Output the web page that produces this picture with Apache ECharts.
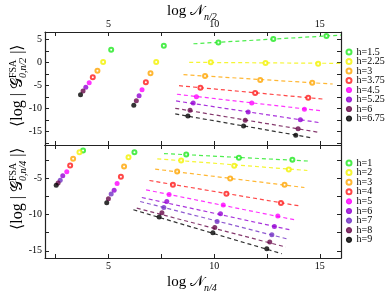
<!DOCTYPE html>
<html><head><meta charset="utf-8">
<script src="https://cdn.jsdelivr.net/npm/echarts@6/dist/echarts.min.js"></script>
<style>html,body{margin:0;padding:0;background:#fff}#c{width:389px;height:292px}</style>
</head><body><div id="c"></div>
<script>
// ---------- DATA ----------
// Top panel: <log |G_{0,n/2}|> vs log N_{n/2}
const topNames = ['h=1.5','h=2.25','h=3','h=3.75','h=4.5','h=5.25','h=6','h=6.75'];
const topH1_5  = [[5.13,2.75],[7.62,3.6],[10.20,4.35],[12.80,5.06],[15.31,5.71]];
const topH2_25 = [[4.75,0.09],[7.26,0.09],[9.84,0.02],[12.43,-0.13],[14.92,-0.28]];
const topH3    = [[4.48,-1.8],[6.99,-2.36],[9.57,-2.94],[12.18,-3.81],[14.64,-4.39]];
const topH3_75 = [[4.26,-3.2],[6.77,-4.3],[9.35,-5.48],[11.94,-6.62],[14.45,-7.64]];
const topH4_5  = [[4.09,-4.4],[6.59,-5.9],[9.16,-7.42],[11.78,-8.79],[14.27,-10.15]];
const topH5_25 = [[3.93,-5.4],[6.45,-7.2],[9.01,-8.79],[11.61,-10.74],[14.08,-12.40]];
const topH6    = [[3.80,-6.19],[6.32,-8.3],[8.86,-10.37],[11.47,-12.53],[13.97,-14.35]];
const topH6_75 = [[3.68,-6.99],[6.20,-9.29],[8.76,-11.6],[11.39,-13.77],[13.86,-15.78]];
// fitted dashed lines (end points)
const topFit1_5  = [[9.02,4.05],[16,5.93]];
const topFit2_25 = [[8.82,0.02],[16,-0.2]];
const topFit3    = [[8.55,-2.66],[15.61,-4.68]];
const topFit3_75 = [[8.34,-5.04],[15.26,-7.99]];
const topFit4_5  = [[8.24,-6.9],[15.14,-10.52]];
const topFit5_25 = [[8.2,-8.35],[15.05,-13.1]];
const topFit6    = [[8.16,-9.94],[14.93,-15.13]];
const topFit6_75 = [[8.16,-11.17],[14.68,-16.4]];

// Bottom panel: <log |G_{0,n/4}|> vs log N_{n/4}
const botNames = ['h=1','h=2','h=3','h=4','h=5','h=6','h=7','h=8','h=9'];
const botH1 = [[3.80,-1.17],[6.23,-1.39],[8.68,-1.72],[11.17,-2.17],[13.70,-2.45]];
const botH2 = [[3.63,-1.39],[5.95,-2.08],[8.44,-2.54],[10.95,-3.28],[13.53,-3.79]];
const botH3 = [[3.33,-2.31],[5.74,-3.37],[8.25,-4.06],[10.76,-5.03],[13.33,-5.9]];
const botH4 = [[3.19,-3.23],[5.59,-4.79],[8.05,-5.9],[10.58,-7.14],[13.16,-8.42]];
const botH5 = [[3.03,-4.1],[5.41,-5.72],[7.87,-7.23],[10.43,-8.7],[13.01,-10.21]];
const botH6 = [[2.84,-4.66],[5.27,-6.63],[7.76,-8.2],[10.30,-9.9],[12.85,-11.65]];
const botH7 = [[2.72,-5.25],[5.13,-7.18],[7.62,-9.03],[10.14,-10.96],[12.73,-12.79]];
const botH8 = [[2.62,-5.66],[5.0,-7.83],[7.53,-9.76],[10.03,-11.79],[12.63,-13.8]];
const botH9 = [[2.53,-5.94],[4.92,-8.38],[7.40,-10.35],[9.94,-12.52],[12.49,-14.72]];
const botFit1 = [[7.63,-1.58],[14.49,-2.62]];
const botFit2 = [[7.31,-2.31],[14.41,-3.92]];
const botFit3 = [[7.21,-3.73],[14.27,-6.27]];
const botFit4 = [[6.94,-5.3],[14.0,-8.79]];
const botFit5 = [[6.78,-6.59],[13.88,-10.77]];
const botFit6 = [[6.58,-7.65],[13.64,-12.14]];
const botFit7 = [[6.5,-8.2],[13.49,-13.39]];
const botFit8 = [[6.34,-9.11],[13.39,-14.49]];
const botFit9 = [[6.18,-9.34],[13.2,-15.41]];

// tick values
const xTicks = [2.5,5,7.5,10,12.5,15];
const xLabels = [5,10,15];
const topYTicks = [-17.5,-15,-12.5,-10,-7.5,-5,-2.5,0,2.5,5];
const topYLabels = [-15,-10,-5,0,5];
const botYTicks = [-15,-12.5,-10,-7.5,-5,-2.5];
const botYLabels = [-15,-10,-5];

// ---------- STYLE ----------
const C = {green:'#1fe81f', yellow:'#f2f200', orange:'#ffa500', red:'#ff1a1a', magenta:'#ff00ff',
           violet:'#9400d3', indigo:'#7230c4', maroon:'#670748', black:'#000000'};
const topColors = [C.green,C.yellow,C.orange,C.red,C.magenta,C.violet,C.maroon,C.black];
const topOpen = [true,true,true,true,false,false,false,false];
const botColors = [C.green,C.yellow,C.orange,C.red,C.magenta,C.violet,C.indigo,C.maroon,C.black];
const botOpen = [true,true,true,true,false,false,false,false,false];
const topPts = [topH1_5,topH2_25,topH3,topH3_75,topH4_5,topH5_25,topH6,topH6_75];
const topFits = [topFit1_5,topFit2_25,topFit3,topFit3_75,topFit4_5,topFit5_25,topFit6,topFit6_75];
const botPts = [botH1,botH2,botH3,botH4,botH5,botH6,botH7,botH8,botH9];
const botFits = [botFit1,botFit2,botFit3,botFit4,botFit5,botFit6,botFit7,botFit8,botFit9];

const FF = "'Liberation Serif','DejaVu Serif',serif";
const AX = '#222';

const series = [];
function add(prefix, names, pts, fits, colors, open, xi, yi) {
  names.forEach((n, i) => {
    series.push({type:'line', name: prefix+'fit'+i, data: fits[i], xAxisIndex: xi, yAxisIndex: yi,
      symbol:'none', silent:true, z:2, animation:false,
      lineStyle:{color: colors[i], width:1.2, type:[4,3], opacity:0.8}});
    series.push({type:'scatter', name: prefix+n, data: pts[i], xAxisIndex: xi, yAxisIndex: yi,
      symbol: open[i] ? 'emptyCircle' : 'circle', symbolSize: open[i] ? 4 : 5, z:3, animation:false,
      itemStyle:{color: colors[i], borderColor: colors[i], borderWidth: open[i] ? 1.2 : 0}});
  });
}
add('a:', topNames, topPts, topFits, topColors, topOpen, 0, 0);
add('b:', botNames, botPts, botFits, botColors, botOpen, 3, 2);

function xAx(grid, pos, labels) {
  return {type:'value', gridIndex: grid, position: pos, min:2, max:16,
    axisLine:{show:true, onZero:false, lineStyle:{color:AX, width:1.2}},
    splitLine:{show:false},
    axisTick:{show:true, inside:true, length:4, customValues: xTicks, lineStyle:{color:AX, width:1}},
    axisLabel:{show: labels, customValues: xLabels, fontFamily: FF, fontSize:10, color:'#000', margin:3}};
}
function yAx(grid, pos, labels, mn, mx, ticks, labs) {
  return {type:'value', gridIndex: grid, position: pos, min: mn, max: mx,
    axisLine:{show:true, onZero:false, lineStyle:{color:AX, width:1.2}},
    splitLine:{show:false},
    axisTick:{show:true, inside:true, length:4, customValues: ticks, lineStyle:{color:AX, width:1}},
    axisLabel:{show: labels, customValues: labs, fontFamily: FF, fontSize:10, color:'#000', margin:3}};
}

const legendCommon = {orient:'vertical', left:345.5, padding:0, itemWidth:5, itemHeight:5,
  formatter: n => n.replace(/^[ab]:/, ''),
  itemStyle:{borderWidth:1.2},
  textStyle:{fontFamily: FF, fontSize:10, color:'#000', lineHeight:9.5},
  selectedMode:false};

const mainRich = (sz) => ({fontSize: sz, fontFamily: FF, fill:'#000', color:'#000'});
const ghost = (sz) => ({fontSize: sz, fontFamily: FF, fill:'rgba(0,0,0,0)', color:'rgba(0,0,0,0)'});
const small = (it) => ({fontSize: 10, fontFamily: FF, fontStyle: it ? 'italic' : 'normal', fill:'#000', color:'#000'});

function xTitle(x, y, sub) {
  return {type:'group', x: x, y: y, silent:true, children:[
    {type:'text', x:0, y:0, style:{text:'{m|log 𝒩}', rich:{m: mainRich(15)}, textAlign:'left', textVerticalAlign:'middle'}},
    {type:'text', x:0, y:6.5, style:{text:'{g|log 𝒩}{s|' + sub + '}', rich:{g: ghost(15), s: small(true)}, textAlign:'left', textVerticalAlign:'middle'}}
  ]};
}
function yTitle(x, y, sub) {
  return {type:'group', x: x, y: y, rotation: Math.PI/2, silent:true, children:[
    {type:'text', x:0, y:0, style:{text:'{m|⟨log | 𝒢}{g|' + sub + '}{m| |⟩}', rich:{m: mainRich(16), g: ghost(10)}, textAlign:'left', textVerticalAlign:'middle'}},
    {type:'text', x:0, y:-5, style:{text:'{g|⟨log | 𝒢}{s|FSA}', rich:{g: ghost(16), s: small(false)}, textAlign:'left', textVerticalAlign:'middle'}},
    {type:'text', x:0, y:5, style:{text:'{g|⟨log | 𝒢}{s|' + sub + '}', rich:{g: ghost(16), s: small(true)}, textAlign:'left', textVerticalAlign:'middle'}}
  ]};
}

const chart = echarts.init(document.getElementById('c'), null, {renderer:'canvas'});
chart.setOption({
  backgroundColor:'#fff',
  animation:false,
  grid:[{left:45, top:32, width:296, height:113}, {left:45, top:145, width:296, height:113}],
  xAxis:[xAx(0,'top',true), xAx(0,'bottom',false), xAx(1,'top',false), xAx(1,'bottom',true)],
  yAxis:[yAx(0,'left',true,-17.9,6.6,topYTicks,topYLabels), yAx(0,'right',false,-17.9,6.6,topYTicks,topYLabels),
         yAx(1,'left',true,-16,-0.4,botYTicks,botYLabels), yAx(1,'right',false,-16,-0.4,botYTicks,botYLabels)],
  legend:[
    Object.assign({}, legendCommon, {top:47, itemGap:-0.5, data: topNames.map(n => 'a:'+n)}),
    Object.assign({}, legendCommon, {top:158, itemGap:-0.4, data: botNames.map(n => 'b:'+n)})
  ],
  series: series,
  graphic:[xTitle(167, 11, 'n/2'), xTitle(167, 282, 'n/4'), yTitle(18, 127, '0,n/2'), yTitle(18, 230, '0,n/4')]
});
</script></body></html>
